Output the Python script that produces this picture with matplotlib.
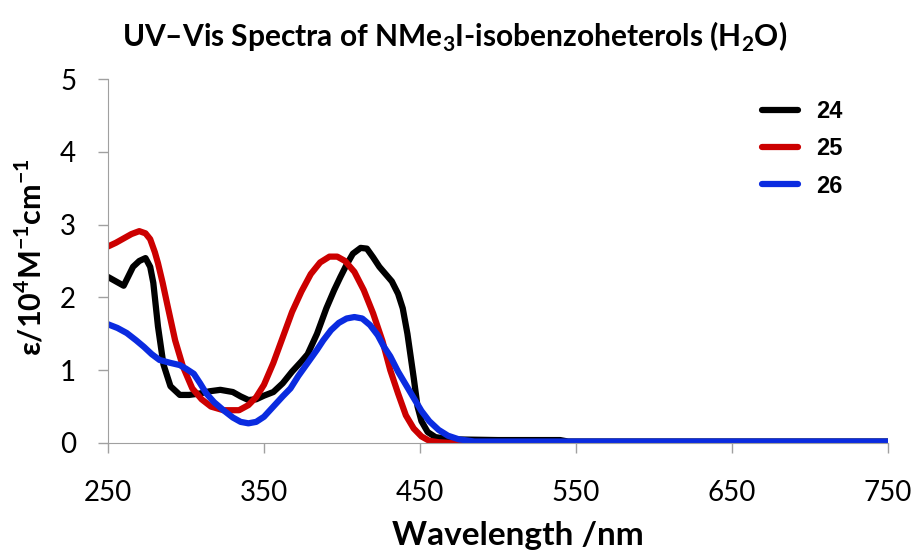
import matplotlib
matplotlib.use('Agg')
import matplotlib.pyplot as plt

plt.rcParams['font.family'] = ['Lato', 'DejaVu Sans']
plt.rcParams['mathtext.fontset'] = 'custom'
plt.rcParams['mathtext.rm'] = 'Lato'
plt.rcParams['mathtext.bf'] = 'Lato:bold'

# compound 24
wl_24 = [250, 255, 260, 266, 270, 274, 277, 279, 282, 285.5, 290, 296, 302, 309, 315,
         322, 330, 335, 340, 345, 350, 356, 362, 368, 374, 378, 384, 390, 395, 399,
         403, 407, 412, 416, 420, 424, 428, 432, 436, 439, 442, 444, 446, 448.5, 451,
         455, 460, 470, 500, 540, 545, 750]
eps_24 = [2.28, 2.22, 2.16, 2.42, 2.50, 2.54, 2.42, 2.20, 1.60, 1.08, 0.78, 0.66, 0.66, 0.68, 0.71,
          0.73, 0.70, 0.64, 0.59, 0.60, 0.65, 0.70, 0.82, 0.98, 1.12, 1.22, 1.50, 1.85, 2.10, 2.28,
          2.45, 2.60, 2.68, 2.67, 2.55, 2.42, 2.32, 2.22, 2.05, 1.85, 1.50, 1.20, 0.90, 0.50, 0.30,
          0.15, 0.08, 0.05, 0.04, 0.04, 0.02, 0.02]

# compound 25
wl_25 = [250, 255, 260, 265, 270, 274, 277, 280, 282, 285, 288, 293, 298, 304, 310,
         316, 324, 334, 340, 345, 350, 356, 362, 368, 374, 380, 386, 392, 397, 402,
         408, 414, 420, 426, 431, 436, 441, 446, 451, 456, 462, 470, 750]
eps_25 = [2.70, 2.75, 2.81, 2.87, 2.91, 2.88, 2.80, 2.62, 2.47, 2.20, 1.90, 1.41, 1.05, 0.75, 0.60,
          0.50, 0.45, 0.45, 0.52, 0.63, 0.80, 1.10, 1.45, 1.80, 2.08, 2.32, 2.48, 2.56, 2.56, 2.50,
          2.35, 2.10, 1.78, 1.40, 1.00, 0.68, 0.38, 0.20, 0.09, 0.03, 0.01, 0.0, 0.0]

# compound 26
wl_26 = [250, 256, 262, 268, 273, 278, 283, 290, 296, 300, 305, 309, 313, 318, 324,
         330, 335, 340, 345, 350, 356, 362, 367, 372, 378, 384, 388, 393, 398, 403,
         408, 413, 418, 423, 427, 431, 436, 441, 446, 451, 456, 462, 468, 475, 485, 750]
eps_26 = [1.63, 1.58, 1.51, 1.41, 1.32, 1.22, 1.14, 1.10, 1.07, 1.02, 0.95, 0.82, 0.68, 0.56, 0.45,
          0.35, 0.29, 0.27, 0.29, 0.36, 0.50, 0.64, 0.75, 0.92, 1.10, 1.28, 1.41, 1.55, 1.65, 1.71,
          1.73, 1.71, 1.62, 1.48, 1.32, 1.19, 0.98, 0.80, 0.62, 0.44, 0.30, 0.18, 0.10, 0.05, 0.02, 0.02]

labels = ['24', '25', '26']
colors = ['#000000', '#cc0000', '#0a2be0']

fig = plt.figure(figsize=(9.16, 5.54), dpi=100)
ax = fig.add_axes([0.118, 0.2004, 0.851, 0.657])

lines = []
for wl, eps, c in zip([wl_24, wl_25, wl_26], [eps_24, eps_25, eps_26], colors):
    ln, = ax.plot(wl, eps, color=c, lw=4.5, solid_capstyle='round')
    lines.append(ln)

ax.set_xlim(250, 750)
ax.set_ylim(0, 5)
ax.set_xticks(range(250, 751, 100))
ax.set_yticks(range(0, 6))
ax.tick_params(labelsize=20, length=7, color='#a0a0a0', width=1)
ax.tick_params(axis='x', pad=20)
ax.tick_params(axis='y', pad=16)
for s in ['top', 'right']:
    ax.spines[s].set_visible(False)
for s in ['left', 'bottom']:
    ax.spines[s].set_color('#a0a0a0')

fig.text(0.5655, 0.034, 'Wavelength /nm', fontsize=24, fontweight='bold',
         ha='center', va='center')
fig.text(0.033, 0.536, r'ε/10$^{\mathbf{4}}$M$^{\mathbf{-1}}$cm$^{\mathbf{-1}}$', fontsize=22,
         fontweight='bold', rotation=90, ha='center', va='center')
fig.text(0.496, 0.933,
         r'UV–Vis Spectra of NMe$_{\mathbf{3}}$I-isobenzoheterols (H$_{\mathbf{2}}$O)',
         fontsize=21.5, fontweight='bold', ha='center', va='center')

leg = ax.legend(lines, labels, loc='upper right', bbox_to_anchor=(0.97, 1.0), frameon=False,
                handlelength=1.5, labelspacing=0.6,
                prop={'family': 'Liberation Sans', 'weight': 'bold', 'size': 17})

fig.savefig('out.png', dpi=100)
